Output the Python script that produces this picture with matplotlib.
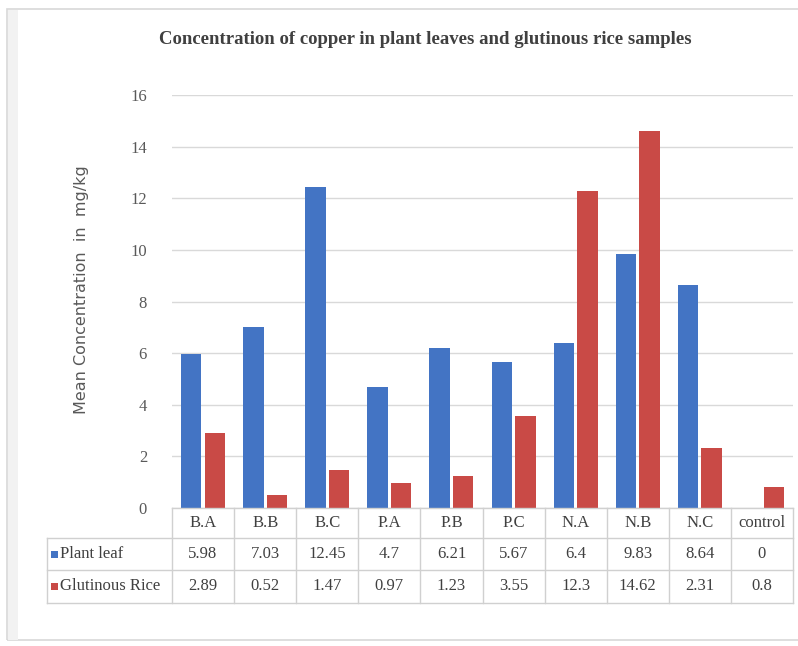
import matplotlib
matplotlib.use("Agg")
import matplotlib.pyplot as plt
from matplotlib.transforms import blended_transform_factory
from matplotlib.patches import Rectangle
import numpy as np

categories = ["B.A", "B.B", "B.C", "P.A", "P.B", "P.C", "N.A", "N.B", "N.C", "control"]
plant_leaf = [5.98, 7.03, 12.45, 4.7, 6.21, 5.67, 6.4, 9.83, 8.64, 0]
glutinous_rice = [2.89, 0.52, 1.47, 0.97, 1.23, 3.55, 12.3, 14.62, 2.31, 0.8]
plant_labels = ["5.98", "7.03", "12.45", "4.7", "6.21", "5.67", "6.4", "9.83", "8.64", "0"]
rice_labels = ["2.89", "0.52", "1.47", "0.97", "1.23", "3.55", "12.3", "14.62", "2.31", "0.8"]
series_names = ["Plant leaf", "Glutinous Rice"]
yticks = [0, 2, 4, 6, 8, 10, 12, 14, 16]

BLUE = "#4374c4"
RED = "#c94a46"
GRID = "#d9d9d9"
TXT = "#404040"
SERIF = ["Liberation Serif", "DejaVu Serif"]

W, H = 798, 646
fig = plt.figure(figsize=(W / 100, H / 100), dpi=100)

def fx(px):
    return px / W

def fy(py):
    return 1 - py / H

# outer frame
fig.add_artist(Rectangle((fx(7), fy(640)), fx(800) - fx(7), fy(9) - fy(640),
                         transform=fig.transFigure, fill=False, ec="#d8d8d8", lw=1.2))
fig.add_artist(Rectangle((fx(8), fy(640)), fx(10), fy(10) - fy(640),
                         transform=fig.transFigure, fc="#f2f2f2", ec="none"))

left, right, top, bottom = 172, 793, 95, 508
ax = fig.add_axes([fx(left), fy(bottom), fx(right) - fx(left), fy(top) - fy(bottom)])
x = np.arange(len(categories))
bw = 0.33
off = 0.19
ax.bar(x - off, plant_leaf, bw, color=BLUE, zorder=3)
ax.bar(x + off, glutinous_rice, bw, color=RED, zorder=3)
ax.set_xlim(-0.5, len(categories) - 0.5)
ax.set_ylim(0, 16)
ax.set_yticks(yticks)
ax.set_yticklabels([str(v) for v in yticks], fontfamily=SERIF, fontsize=12, color="#595959")
ax.tick_params(axis="y", length=0, pad=18)
ax.set_xticks([])
for s in ax.spines.values():
    s.set_visible(False)
ax.yaxis.grid(True, color=GRID, lw=1, zorder=0)
ax.set_axisbelow(True)

fig.text(fx(82), fy(290), "Mean Concentration  in  mg/kg", rotation=90, ha="center", va="center",
         fontsize=11.5, color="#595959", family=["DejaVu Sans"], fontstretch="expanded")

fig.text(fx(425), fy(40), "Concentration of copper in plant leaves and glutinous rice samples",
         ha="center", va="center", fontsize=13.5, fontweight="bold", color="#404040",
         family=SERIF)

# data table
tr = blended_transform_factory(ax.transData, fig.transFigure)
ftr = fig.transFigure
lc = "#d0d0d0"
y_head_top, y_head_bot, y_r1_bot, y_r2_bot = 508, 538, 570, 603
tab_left = 47
for i in range(len(categories) + 1):
    fig.add_artist(plt.Line2D([i - 0.5, i - 0.5], [fy(y_head_top), fy(y_r2_bot)], transform=tr, color=lc, lw=1))
fig.add_artist(plt.Line2D([fx(tab_left), fx(tab_left)], [fy(y_head_bot), fy(y_r2_bot)], transform=ftr, color=lc, lw=1))
fig.add_artist(plt.Line2D([fx(left), fx(right)], [fy(y_head_top), fy(y_head_top)], transform=ftr, color=lc, lw=1))
for yy in (y_head_bot, y_r1_bot, y_r2_bot):
    fig.add_artist(plt.Line2D([fx(tab_left), fx(right)], [fy(yy), fy(yy)], transform=ftr, color=lc, lw=1))

for i, c in enumerate(categories):
    fig.text(i, fy((y_head_top + y_head_bot) / 2), c, transform=tr, ha="center", va="center",
             fontsize=12, color=TXT, family=SERIF)
    fig.text(i, fy((y_head_bot + y_r1_bot) / 2), plant_labels[i], transform=tr, ha="center", va="center",
             fontsize=12, color=TXT, family=SERIF)
    fig.text(i, fy((y_r1_bot + y_r2_bot) / 2), rice_labels[i], transform=tr, ha="center", va="center",
             fontsize=12, color=TXT, family=SERIF)

for name, col, (a, b) in zip(series_names, [BLUE, RED], [(y_head_bot, y_r1_bot), (y_r1_bot, y_r2_bot)]):
    yc = (a + b) / 2
    fig.add_artist(Rectangle((fx(51), fy(yc + 3.5)), fx(7), fy(yc - 3.5) - fy(yc + 3.5),
                             transform=ftr, fc=col, ec="none"))
    fig.text(fx(60), fy(yc), name, ha="left", va="center", fontsize=12, color=TXT, family=SERIF)

fig.savefig("out.png", dpi=100, facecolor="white")
